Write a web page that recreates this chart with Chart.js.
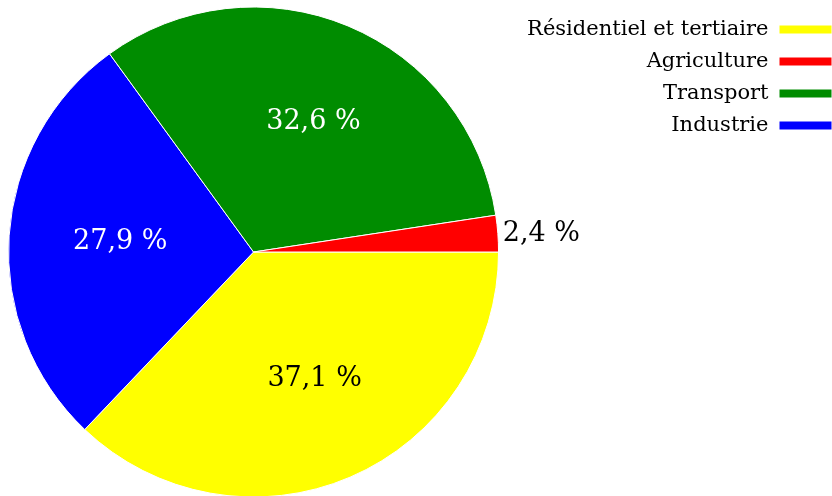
<!DOCTYPE html>
<html>
<head>
<meta charset="utf-8">
<script src="https://cdn.jsdelivr.net/npm/chart.js@4"></script>
<style>
  body { margin: 0; background: #fff; overflow: hidden; }
  #piechart { margin-left: -10px; display: block; }
</style>
</head>
<body>
<canvas id="piechart" width="842" height="496"></canvas>
<script>
// slices, clockwise from 3 o'clock
const labels = ["Résidentiel et tertiaire", "Industrie", "Transport", "Agriculture"];
const values = [37.1, 27.9, 32.6, 2.4];
const colors = ["#ffff00", "#0000ff", "#008c00", "#ff0000"];
const labelColors = ["#000000", "#ffffff", "#ffffff", "#000000"];
// order of the legend entries (index into labels)
const legendOrder = [0, 3, 2, 1];

function formatValue(v) {
  return v.toFixed(1).replace(".", ",") + " %";
}

const sliceLabels = {
  id: "sliceLabels",
  afterDatasetsDraw(chart) {
    const ctx = chart.ctx;
    const meta = chart.getDatasetMeta(0);
    ctx.save();
    ctx.font = "27px 'DejaVu Serif'";
    ctx.textBaseline = "middle";
    meta.data.forEach((arc, i) => {
      const p = arc.getProps(["x", "y", "startAngle", "endAngle", "outerRadius"], true);
      const mid = (p.startAngle + p.endAngle) / 2;
      const text = formatValue(values[i]);
      if (values[i] < 5) {
        const r = p.outerRadius + 5;
        ctx.textAlign = "left";
        ctx.fillStyle = "#000000";
        ctx.fillText(text, p.x + Math.cos(mid) * r, p.y + Math.sin(mid) * r + 1);
      } else {
        const r = p.outerRadius * 0.57;
        ctx.textAlign = "center";
        ctx.fillStyle = labelColors[i];
        ctx.fillText(text, p.x + Math.cos(mid) * r + 6, p.y + Math.sin(mid) * r - 1);
      }
    });
    ctx.restore();
  },
};

Chart.defaults.font.family = "'DejaVu Serif'";
Chart.defaults.color = "#000000";

new Chart(document.getElementById("piechart"), {
  type: "pie",
  data: {
    labels: labels,
    datasets: [
      {
        data: values,
        backgroundColor: colors,
        borderColor: "#ffffff",
        borderWidth: 1,
        hoverOffset: 0,
      },
    ],
  },
  options: {
    responsive: false,
    animation: false,
    rotation: 90,
    radius: 245,
    layout: {
      padding: { top: 8, bottom: 0, left: 0, right: -11 },
    },
    plugins: {
      tooltip: { enabled: false },
      legend: {
        position: "right",
        align: "start",
        rtl: true,
        labels: {
          font: { size: 21 },
          boxWidth: 53,
          boxHeight: 9,
          padding: 11,
          sort: (a, b) => legendOrder.indexOf(a.index) - legendOrder.indexOf(b.index),
        },
      },
    },
  },
  plugins: [sliceLabels],
});
</script>
</body>
</html>
